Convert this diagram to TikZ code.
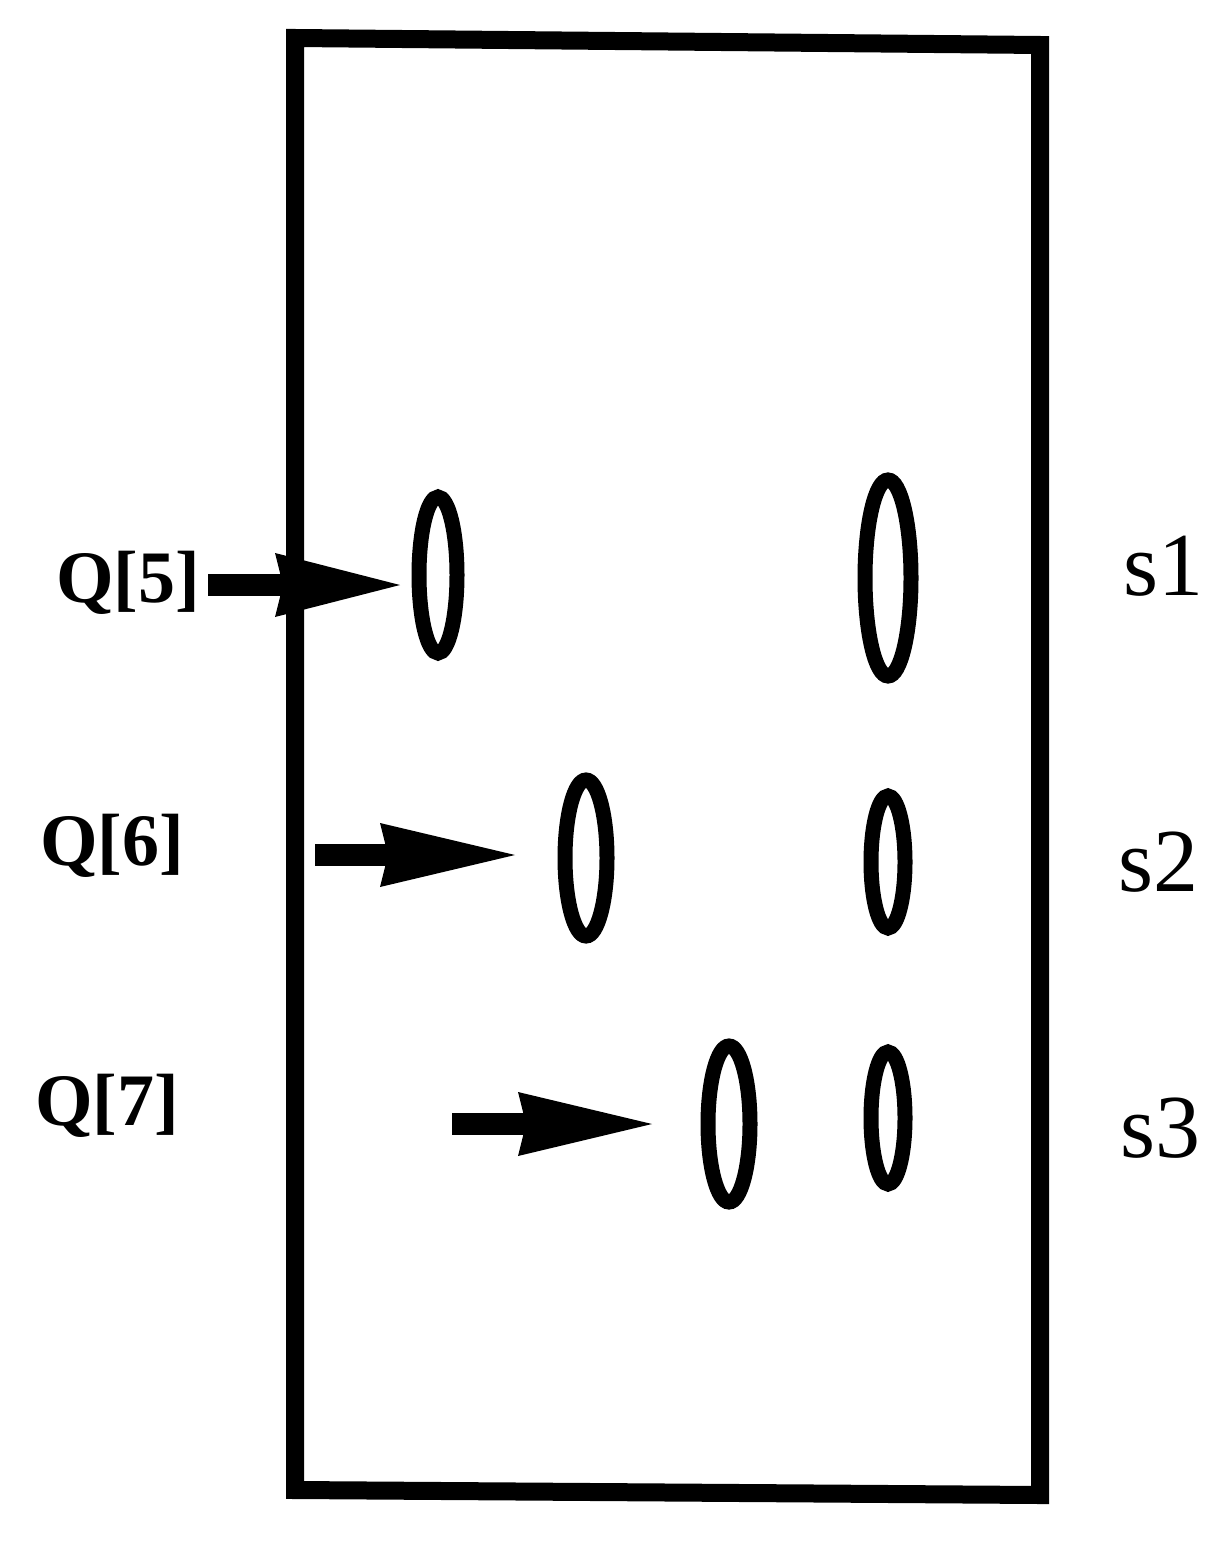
\documentclass[tikz,border=0pt]{standalone}
\usepackage{fontspec}
\setmainfont{Liberation Serif}
\usetikzlibrary{shapes.geometric}
\begin{document}
\begin{tikzpicture}[x=0.5pt,y=-0.5pt,
  ring/.style={draw,line width=7.5pt},
  qlab/.style={font=\fontsize{37}{40}\selectfont\bfseries},
  slab/.style={font=\fontsize{45}{48}\selectfont}]
\useasboundingbox (0,0) rectangle (1214,1556);
\draw[line width=9pt] (295,38) -- (1040,45) -- (1040,1495) -- (295,1490) -- cycle;
\draw[ring] (438,575) ellipse [x radius=19,y radius=78];
\draw[ring] (888,578) ellipse [x radius=23,y radius=98];
\draw[ring] (586,858) ellipse [x radius=21,y radius=78];
\draw[ring] (888,862) ellipse [x radius=17,y radius=66];
\draw[ring] (729,1124) ellipse [x radius=21,y radius=78];
\draw[ring] (888,1118) ellipse [x radius=17,y radius=66];
\foreach \a/\h/\t/\y in {208/275/400/585, 315/380/515/855, 452/518/652/1124}{
  \fill (\a,\y-11) rectangle (\h+20,\y+11);
  \fill (\h,\y-32) -- (\t,\y) -- (\h,\y+32) -- (\h+8,\y) -- cycle;
}
\node[qlab] (q5) at (128,583) {Q[5]};
\node[qlab] (q6) at (112,846) {Q[6]};
\node[qlab] (q7) at (107,1106) {Q[7]};
\node[slab] (s1) at (1163,566) {s1};
\node[slab] (s2) at (1158,862) {s2};
\node[slab] (s3) at (1160,1128) {s3};
\end{tikzpicture}
\end{document}
